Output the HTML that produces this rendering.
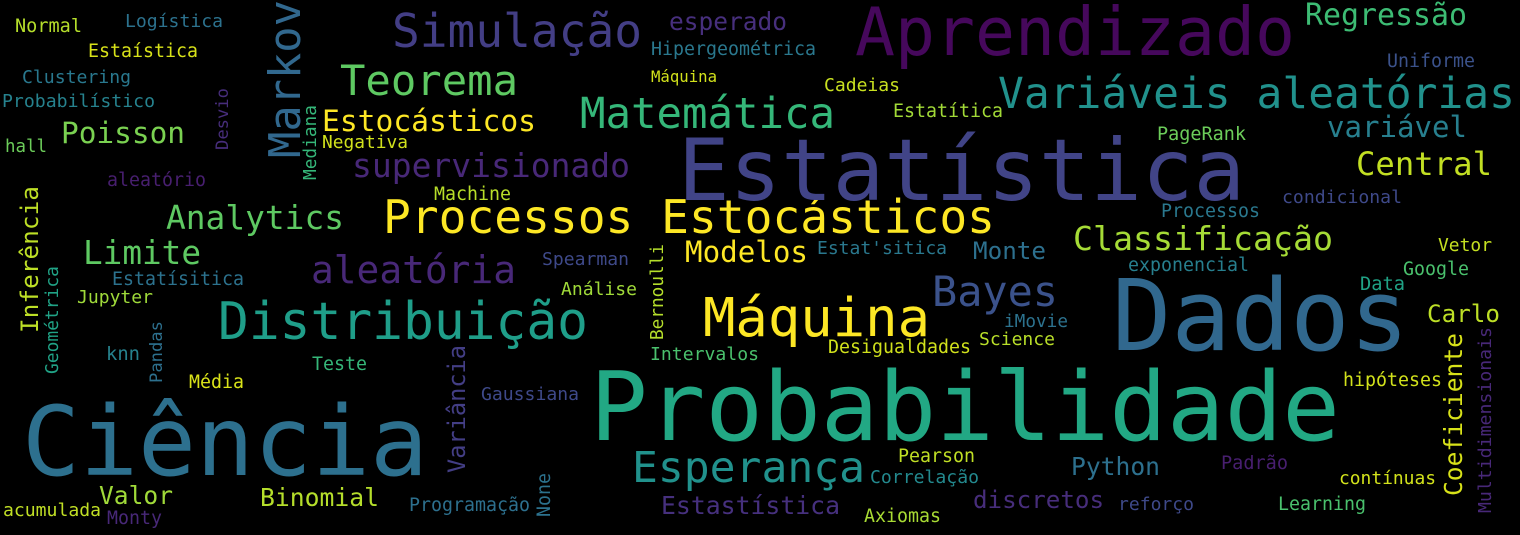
<!DOCTYPE html>
<html><head><meta charset="utf-8"><style>
html,body{margin:0;padding:0;background:#000;}
svg{display:block;}
text{font-family:"DejaVu Sans Mono","Liberation Mono",monospace;}
</style></head><body>
<svg id="cloud" width="1520" height="535" viewBox="0 0 1520 535">
<rect width="1520" height="535" fill="#000"/>
</svg>
<script>
// [word, x, baselineY, width, color, vertical]
const words = [
["Normal",15,32,67,"#b5de2b",0],["Logística",125,27,98,"#2c728e",0],["Estaística",88,57,110,"#d8e219",0],
["Clustering",22,83,109,"#29788e",0],["Probabilístico",2,107,153,"#26828e",0],["hall",5,152,42,"#6ccd5a",0],
["Desvio",228,150,62,"#472d7b",1],["Markov",300,158,158,"#31688e",1],["Mediana",316,180,75,"#35b779",1],
["Simulação",392,47,250,"#433e85",0],["Teorema",340,95,178,"#5ec962",0],["Estocásticos",322,131,214,"#fde725",0],
["Negativa",322,148,86,"#d0e11c",0],["Poisson",61,143,124,"#7ad151",0],["supervisionado",352,177,278,"#482878",0],
["aleatório",107,186,99,"#481f70",0],["Inferência",38,333,147,"#bddf26",1],["Analytics",166,229,178,"#5ec962",0],
["Processos Estocásticos",383,233,612,"#fde725",0],["Matemática",580,128,255,"#35b779",0],
["Aprendizado",855,55,440,"#46085c",0],["esperado",669,30,118,"#472f7d",0],["Hipergeométrica",651,55,165,"#2a788e",0],
["Máquina",651,82,66,"#d2e21b",0],["Estatística",678,200,567,"#414487",0],["Regressão",1305,25,162,"#3dbc74",0],
["Uniforme",1387,67,88,"#3b528b",0],["Cadeias",824,91,76,"#c8e020",0],["Variáveis aleatórias",998,108,517,"#21918c",0],
["Estatítica",893,117,110,"#a2da37",0],["variável",1327,137,140,"#277f8e",0],["PageRank",1157,140,89,"#6ccd5a",0],
["Central",1356,175,136,"#c2df23",0],["condicional",1282,203,120,"#3e4989",0],["Processos",1161,217,99,"#2a788e",0],
["Machine",434,200,77,"#b8de29",0],["Limite",83,264,118,"#5ec962",0],["Estatísitica",112,285,132,"#2c728e",0],
["Jupyter",77,303,76,"#9fda3a",0],["Geométrica",58,374,108,"#20a386",1],["aleatória",311,283,205,"#482878",0],
["Distribuição",218,339,370,"#1f9e89",0],["knn",106,360,34,"#26828e",0],["Pandas",162,383,62,"#2d708e",1],
["Média",189,388,55,"#dae319",0],["Teste",312,370,55,"#35b779",0],["Variância",465,473,128,"#433e85",1],
["Spearman",542,265,87,"#3e4989",0],["Análise",561,295,76,"#a0da39",0],["Bernoulli",663,340,96,"#b5de2b",1],
["Modelos",685,262,123,"#fde725",0],["Estat'sitica",817,254,130,"#2a788e",0],["Monte",973,259,73,"#2d708e",0],
["Classificação",1073,250,260,"#a5db36",0],["Vetor",1438,251,54,"#c5e021",0],["exponencial",1128,271,121,"#277f8e",0],
["Google",1403,275,66,"#4ac16d",0],["Data",1360,290,45,"#20a386",0],["Máquina",703,336,227,"#fde725",0],
["Bayes",932,306,126,"#3b528b",0],["Dados",1112,350,297,"#31688e",0],["Carlo",1427,322,73,"#bddf26",0],
["iMovie",1004,327,64,"#2c728e",0],["Science",979,345,76,"#b8de29",0],["Desigualdades",828,353,143,"#d0e11c",0],
["Intervalos",650,360,109,"#4ac16d",0],["Multidimensionais",1491,513,186,"#482878",1],["Coeficiente",1462,496,163,"#d8e219",1],
["hipóteses",1343,386,99,"#d2e21b",0],["Probabilidade",590,440,750,"#22a884",0],["Ciência",22,475,406,"#2d708e",0],
["Gaussiana",481,400,98,"#3e4989",0],["Esperança",632,482,233,"#21918c",0],["Pearson",898,462,77,"#c0df25",0],
["Correlação",870,483,109,"#23898e",0],["Python",1071,475,89,"#2d708e",0],["Padrão",1221,469,67,"#481f70",0],
["contínuas",1339,484,97,"#d2e21b",0],["Valor",99,504,74,"#a0da39",0],["Binomial",260,506,119,"#b5de2b",0],
["None",550,517,44,"#2c728e",1],["Programação",409,511,121,"#2d708e",0],["Estastística",661,514,179,"#46307e",0],
["Axiomas",864,522,77,"#a8db34",0],["discretos",973,508,131,"#472d7b",0],["reforço",1118,510,76,"#3e4989",0],
["Learning",1278,510,88,"#4ac16d",0],["acumulada",3,516,98,"#c0df25",0],["Monty",107,524,55,"#482878",0]
];
const svg = document.getElementById('cloud');
const NS = 'http://www.w3.org/2000/svg';
for (const w of words) {
  const [txt, x, y, width, color, vert] = w;
  const size = width / (txt.length * 0.602);
  const t = document.createElementNS(NS, 'text');
  
  
  t.setAttribute('x', vert ? 0 : x);
  t.setAttribute('y', vert ? 0 : y);
  if (vert) t.setAttribute('transform', 'translate(' + x + ',' + y + ') rotate(-90)');
  t.setAttribute('font-size', size.toFixed(2));
  t.setAttribute('fill', color);
  t.setAttribute('textLength', width);
  t.textContent = txt;
  svg.appendChild(t);
}
</script>
</body></html>
